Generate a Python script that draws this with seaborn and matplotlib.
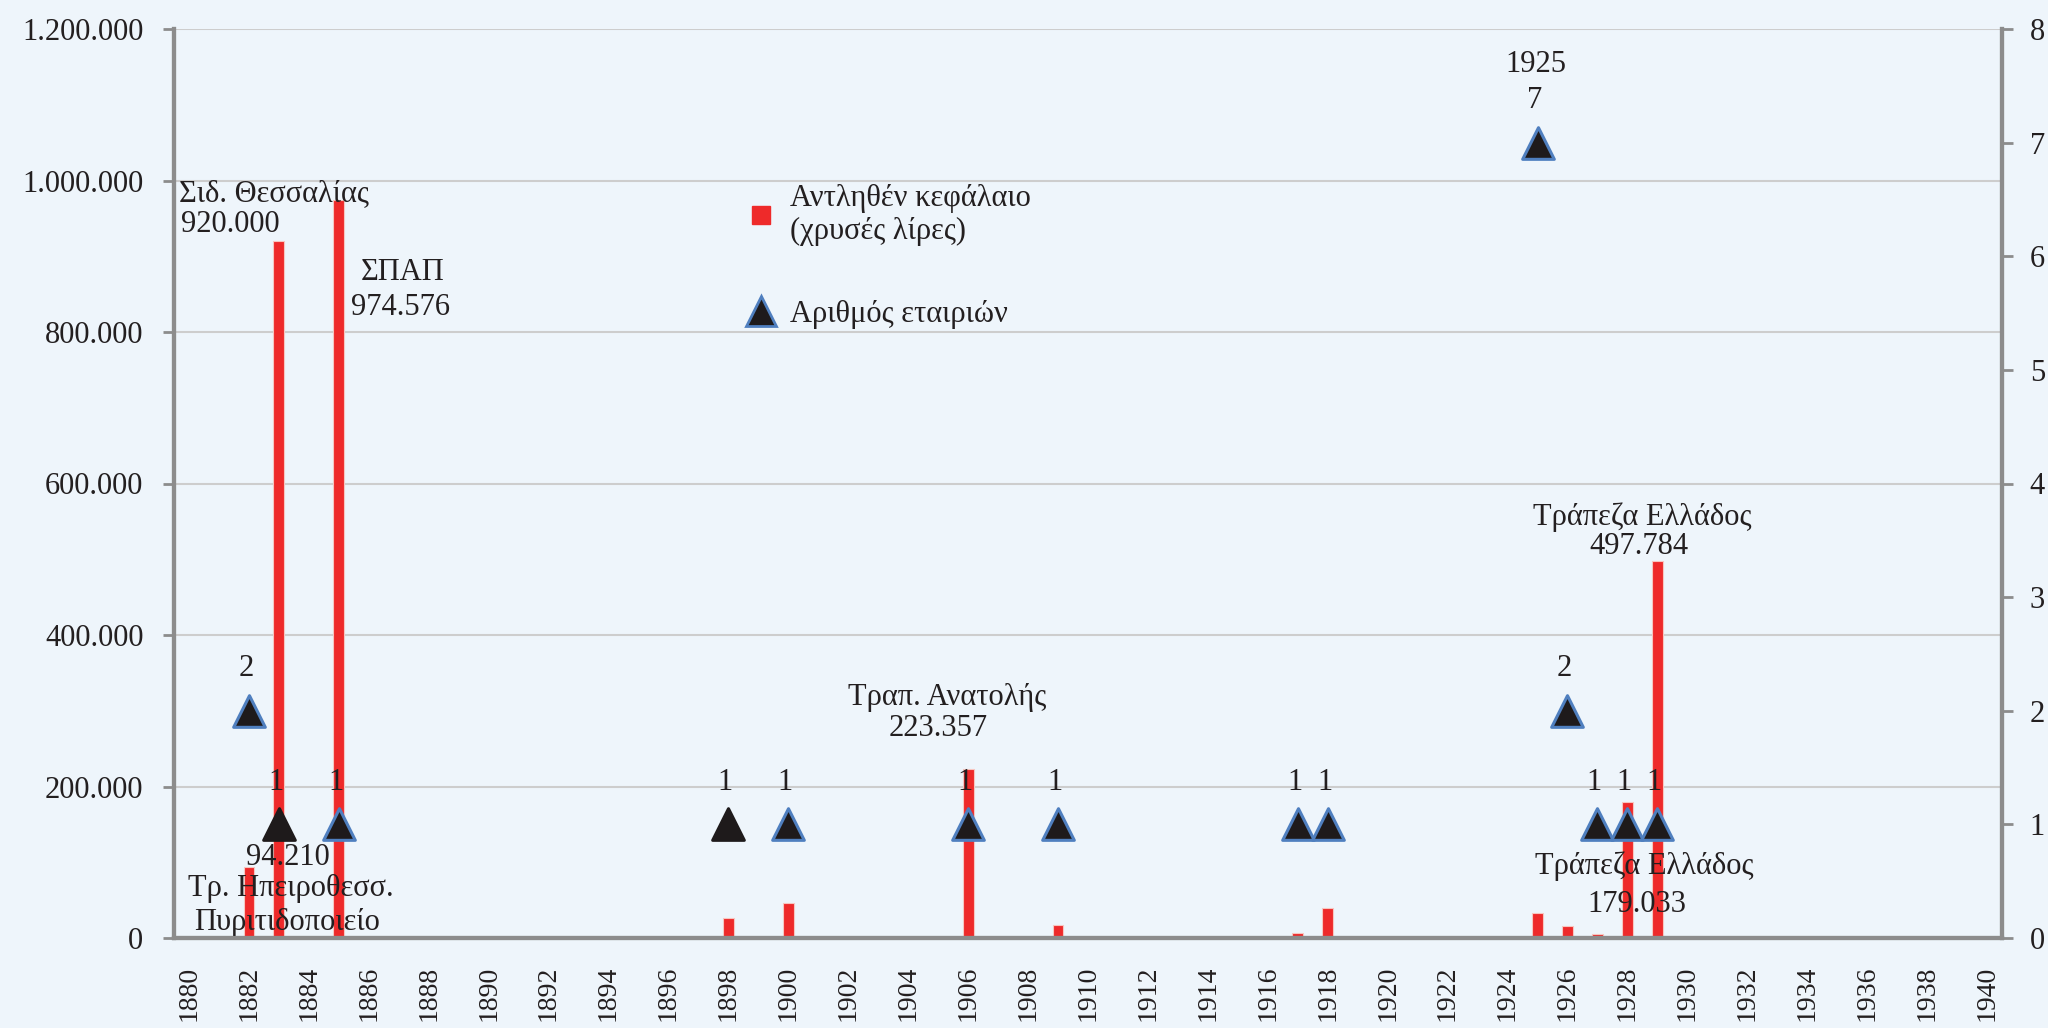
import matplotlib
matplotlib.use("Agg")
import matplotlib.pyplot as plt
from matplotlib.lines import Line2D
from matplotlib.ticker import FuncFormatter, FixedLocator
import seaborn as sns
import pandas as pd

# capital raised (gold pounds) per year
cap_years = [1882, 1883, 1885, 1898, 1900, 1906, 1909, 1917, 1918, 1925, 1926, 1927, 1928, 1929]
capital = [94210, 920000, 974576, 26000, 46000, 223357, 17000, 6000, 39000, 33000, 16000, 5000, 179033, 497784]

# number of companies per year
cnt_years = [1882, 1883, 1885, 1898, 1900, 1906, 1909, 1917, 1918, 1925, 1926, 1927, 1928, 1929]
counts = [2, 1, 1, 1, 1, 1, 1, 1, 1, 7, 2, 1, 1, 1]
plain_black = [1883, 1898]  # markers without the blue outline

all_years = list(range(1880, 1941))
tick_years = list(range(1880, 1941, 2))

# annotation texts with their (year, value) anchors
notes = [
    ("Σιδ. Θεσσαλίας", 1879.67, 983000, "left"),
    ("920.000", 1879.73, 942000, "left"),
    ("ΣΠΑΠ", 1887.13, 879000, "center"),
    ("974.576", 1887.07, 833000, "center"),
    ("94.210", 1883.3, 106000, "center"),
    ("Τρ. Ηπειροθεσσ.", 1883.4, 66000, "center"),
    ("Πυριτιδοποιείο", 1883.27, 20000, "center"),
    ("Τραπ. Ανατολής", 1905.3, 318000, "center"),
    ("223.357", 1905.0, 277000, "center"),
    ("Τράπεζα Ελλάδος", 1928.5, 556000, "center"),
    ("497.784", 1928.4, 517000, "center"),
    ("Τράπεζα Ελλάδος", 1928.55, 95000, "center"),
    ("179.033", 1928.3, 44500, "center"),
]

bg = "#EEF5FB"
red = "#EE2A2A"
txt = "#231F20"
spine = "#8C8C8C"
tri = "#1E1A1B"
tri_edge = "#4F7FBF"

sns.set_style("white")
plt.rcParams["font.family"] = ["Liberation Serif", "DejaVu Serif"]
plt.rcParams["text.color"] = txt
fs = 22

df_cap = pd.DataFrame({"year": cap_years, "capital": capital})
df_cnt = pd.DataFrame({"year": cnt_years, "count": counts})
df_cnt["pos"] = df_cnt["year"] - all_years[0]
df_cnt["edge"] = ["black" if y in plain_black else "blue" for y in df_cnt["year"]]

fig = plt.figure(figsize=(20.48, 10.28), dpi=100, facecolor=bg)
ax = fig.add_axes([174 / 2048, 90 / 1028, 1828 / 2048, 909 / 1028])
ax.set_facecolor(bg)

sns.barplot(data=df_cap, x="year", y="capital", order=all_years, color=red,
            width=0.36, saturation=1, edgecolor="#F7C6C0", linewidth=0.8, ax=ax)

ax.set_xlim(-0.5, len(all_years) - 0.5)
ax.set_ylim(0, 1200000)
ax.set_yticks(range(0, 1200001, 200000))
ax.yaxis.set_major_formatter(FuncFormatter(lambda v, p: f"{v:,.0f}".replace(",", ".")))
ax.grid(axis="y", color="#CDCDCD", linewidth=1.5)
ax.set_axisbelow(True)
ax.set_xlabel("")
ax.set_ylabel("")

# x axis: labels every 2 years at centres, tick marks between categories
ax.xaxis.set_major_locator(FixedLocator([y - all_years[0] for y in tick_years]))
ax.set_xticklabels([str(y) for y in tick_years], rotation=90, va="top")
ax.xaxis.set_minor_locator(FixedLocator([i - 0.5 for i in range(len(all_years) + 1)]))
ax.tick_params(axis="x", which="major", length=0, pad=20, labelsize=20, colors=txt)
ax.tick_params(axis="x", which="minor", length=8, width=2, color=spine, direction="out")
ax.tick_params(axis="y", length=8, width=2, color=spine, pad=14, labelsize=fs, labelcolor=txt)

for s in ["left", "bottom", "right"]:
    ax.spines[s].set_color(spine)
    ax.spines[s].set_linewidth(3)
ax.spines["top"].set_visible(False)

for t, xv, yv, ha in notes:
    ax.text(xv - all_years[0], yv, t, ha=ha, va="center", fontsize=fs, color=txt)

# second axis: number of companies
ax2 = ax.twinx()
ax2.set_ylim(0, 8)
ax2.set_yticks(range(0, 9))
for edge, ec in [("blue", tri_edge), ("black", tri)]:
    sns.scatterplot(data=df_cnt[df_cnt["edge"] == edge], x="pos", y="count", marker="^",
                    s=520, color=tri, edgecolor=ec, linewidth=2.2, legend=False,
                    ax=ax2, zorder=6)

for _, r in df_cnt.iterrows():
    ax2.text(r["pos"] - 0.1, r["count"] + 0.37, str(r["count"]), ha="center",
             va="center", fontsize=fs, color=txt)
top = df_cnt.loc[df_cnt["count"].idxmax()]
ax2.text(top["pos"] - 0.05, top["count"] + 0.69, str(top["year"]), ha="center",
         va="center", fontsize=fs, color=txt)

ax2.set_xlim(-0.5, len(all_years) - 0.5)
ax2.set_xlabel("")
ax2.set_ylabel("")
ax2.tick_params(axis="y", length=8, width=2, color=spine, pad=12, labelsize=fs, labelcolor=txt)
for s in ["left", "bottom", "right"]:
    ax2.spines[s].set_color(spine)
    ax2.spines[s].set_linewidth(3)
ax2.spines["top"].set_visible(False)

handles = [
    Line2D([], [], marker="s", linestyle="none", markersize=13, markerfacecolor=red,
           markeredgecolor=red),
    Line2D([], [], marker="^", linestyle="none", markersize=21, markerfacecolor=tri,
           markeredgecolor=tri_edge, markeredgewidth=2),
]
ax2.legend(handles, ["Αντληθέν κεφάλαιο\n(χρυσές λίρες)", "Αριθμός εταιριών"],
           loc="upper left", bbox_to_anchor=(0.297, 0.86), frameon=False,
           fontsize=fs, labelspacing=1.75, handletextpad=0.4, handlelength=1.1)

fig.savefig("out.png", dpi=100, facecolor=bg)
